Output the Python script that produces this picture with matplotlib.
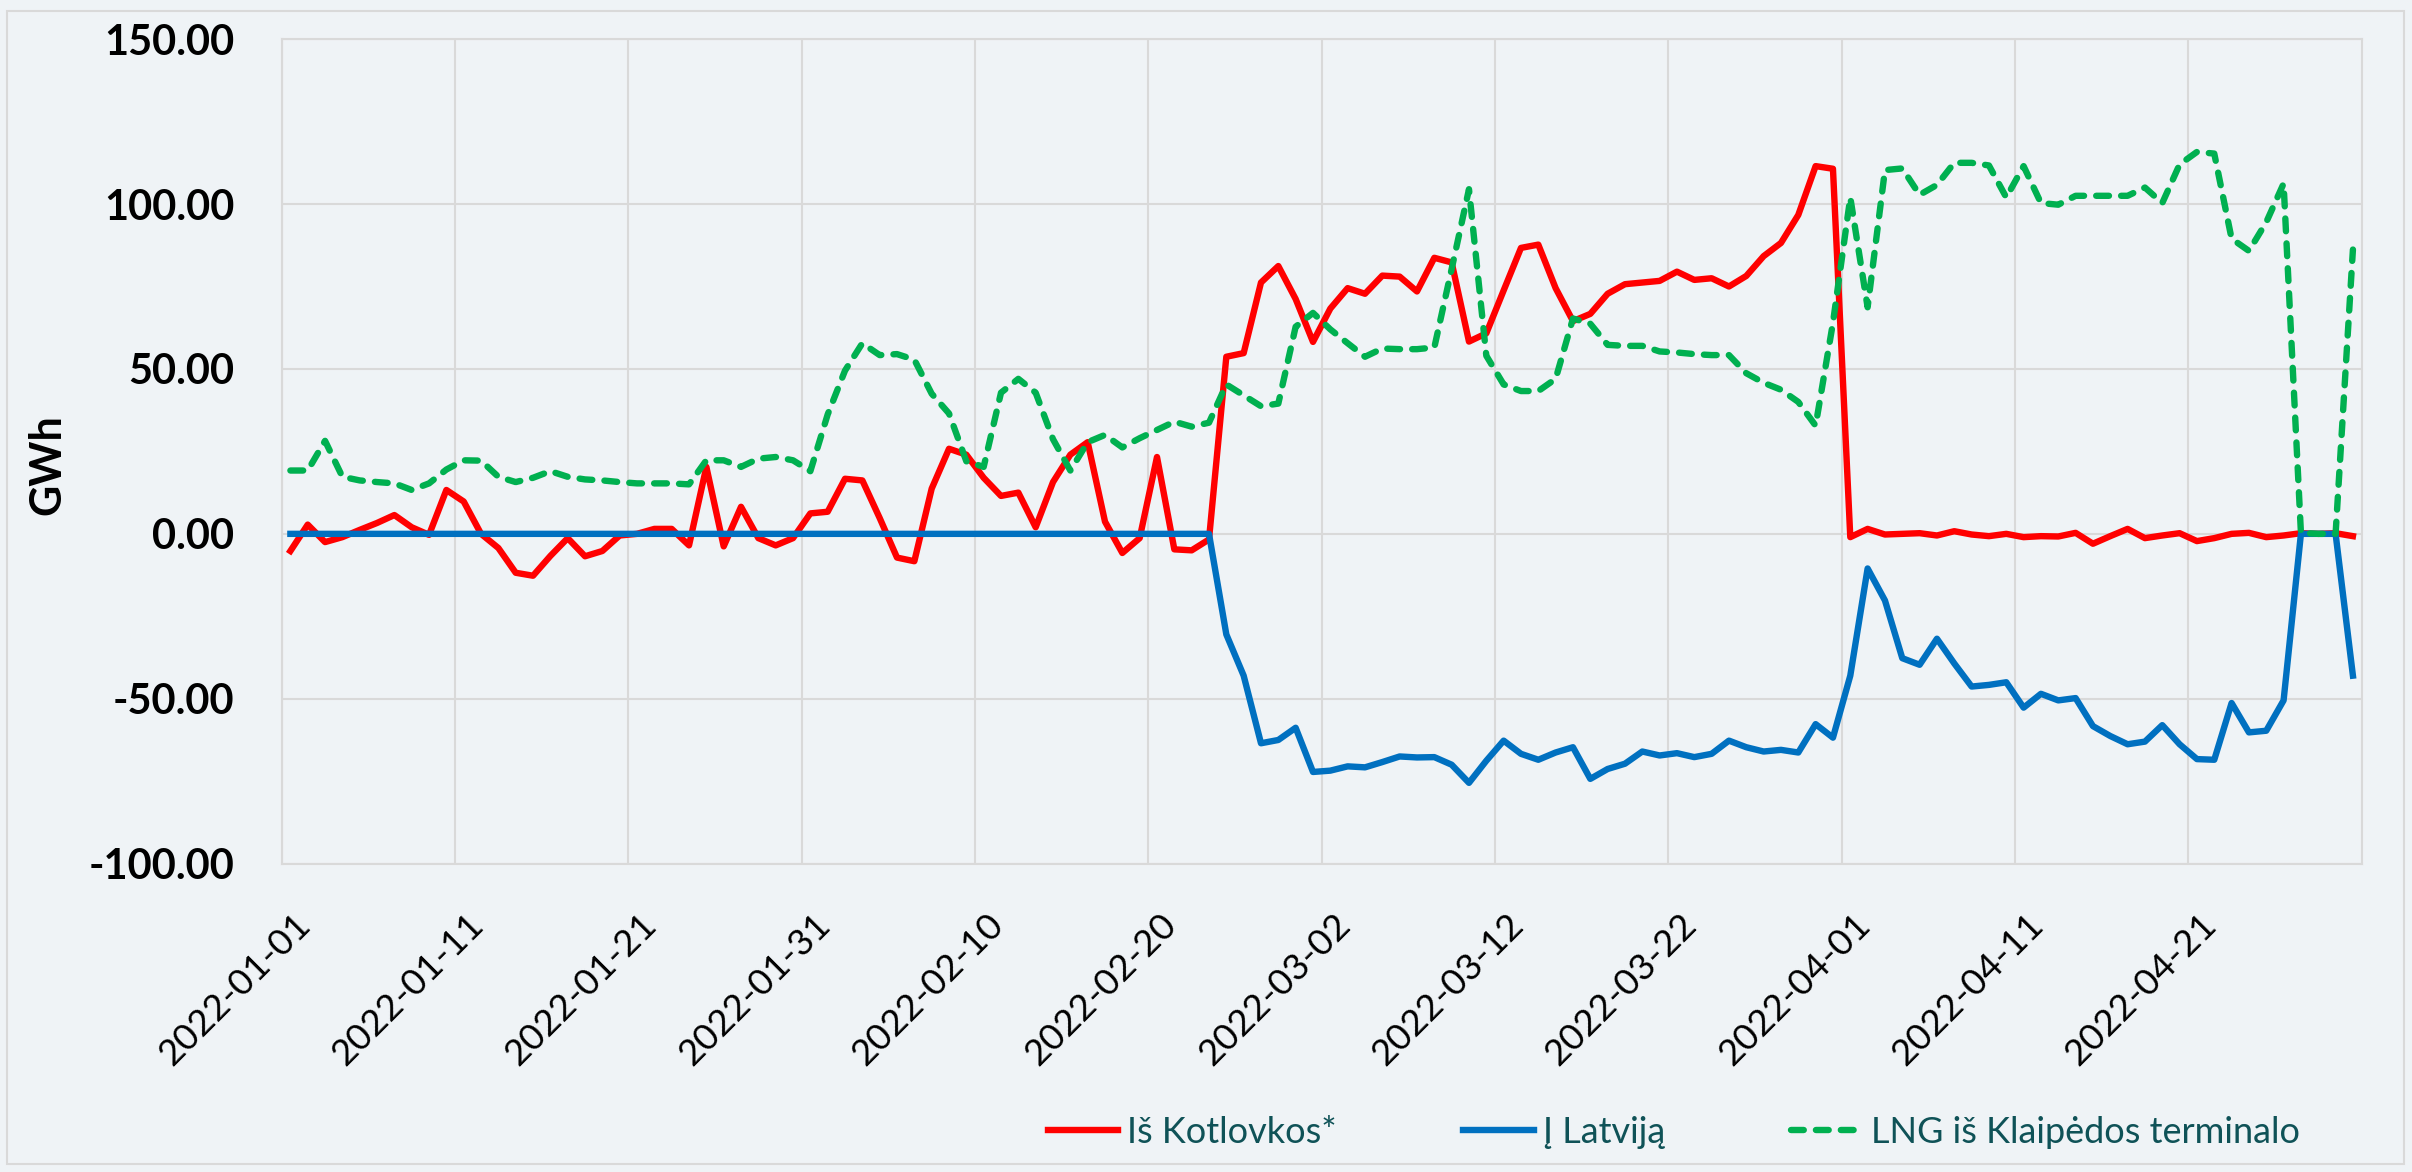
import numpy as np
import pandas as pd
import matplotlib
matplotlib.use('Agg')
import matplotlib.pyplot as plt
import matplotlib.dates as mdates
from matplotlib.ticker import FuncFormatter
from matplotlib.transforms import ScaledTranslation
from matplotlib.patches import Rectangle

# daily gas flows, GWh, 2022-01-01 .. 2022-04-30
dates = pd.date_range('2022-01-01', periods=120, freq='D')

kotlovka = [
    -5.2, 2.8, -2.5, -1.0, 1.2, 3.3, 5.7, 2.0, -0.3, 13.3,
    9.8, 0.0, -4.3, -11.8, -12.7, -6.7, -1.3, -6.8, -5.2, -0.5,
    0.0, 1.5, 1.5, -3.5, 20.3, -3.8, 8.2, -1.3, -3.5, -1.3,
    6.2, 6.7, 16.7, 16.2, 4.8, -7.2, -8.3, 13.7, 25.8, 24.0,
    17.0, 11.5, 12.5, 2.0, 15.7, 24.0, 27.8, 3.7, -5.8, -1.3,
    23.3, -4.7, -5.0, -1.7, 53.7, 54.8, 76.2, 81.2, 71.2, 58.2,
    68.3, 74.5, 72.8, 78.3, 78.0, 73.5, 83.7, 82.3, 58.3, 60.8,
    73.8, 86.7, 87.7, 74.5, 64.5, 66.7, 72.8, 75.7, 76.2, 76.7,
    79.5, 77.0, 77.5, 75.0, 78.2, 84.2, 88.2, 96.7, 111.5, 110.7,
    -1.0, 1.5, -0.2, 0.0, 0.2, -0.5, 0.8, -0.2, -0.7, 0.0,
    -1.0, -0.7, -0.8, 0.3, -3.0, -0.7, 1.5, -1.3, -0.5, 0.2,
    -2.2, -1.3, 0.0, 0.3, -1.0, -0.5, 0.2, 0.0, 0.2, -0.7,
]

latvija = [0.0] * 54 + [
    -30.5, -43.0, -63.5, -62.5, -58.8, -72.2,
    -71.8, -70.5, -70.8, -69.2, -67.5, -67.8, -67.7, -70.0, -75.5, -68.8,
    -62.7, -66.7, -68.5, -66.3, -64.7, -74.3, -71.3, -69.7, -66.0, -67.2,
    -66.5, -67.7, -66.7, -62.7, -64.7, -66.0, -65.5, -66.3, -57.7, -61.8,
    -43.0, -10.5, -20.2, -37.7, -39.7, -31.8, -39.3, -46.3, -45.8, -45.0,
    -52.7, -48.5, -50.5, -49.8, -58.3, -61.3, -63.8, -63.0, -58.0, -63.8,
    -68.3, -68.5, -51.3, -60.2, -59.7, -50.5, 0.0, 0.0, 0.0, -43.0,
]

lng = [
    19.2, 19.2, 28.2, 17.3, 16.2, 15.7, 15.3, 13.3, 15.3, 19.5,
    22.3, 22.2, 17.3, 15.7, 17.0, 19.0, 17.3, 16.5, 16.2, 15.7,
    15.3, 15.3, 15.3, 15.0, 22.3, 22.3, 20.3, 22.8, 23.3, 22.3,
    19.0, 36.2, 49.5, 57.8, 54.2, 54.5, 52.8, 42.5, 36.5, 22.0,
    20.3, 42.8, 47.0, 42.8, 28.7, 19.2, 27.8, 30.0, 26.2, 29.0,
    31.5, 34.0, 32.5, 33.7, 45.3, 42.0, 38.7, 39.5, 62.8, 67.0,
    62.0, 57.8, 53.7, 56.2, 56.0, 56.0, 56.5, 80.3, 104.5, 54.0,
    45.3, 43.3, 43.3, 47.0, 65.3, 63.7, 57.3, 57.0, 57.0, 55.3,
    55.0, 54.5, 54.2, 54.2, 48.7, 45.8, 43.7, 40.0, 32.8, 64.0,
    102.0, 68.7, 110.3, 110.8, 102.8, 105.8, 112.5, 112.5, 111.7, 102.0,
    111.5, 100.3, 99.8, 102.5, 102.5, 102.5, 102.5, 105.0, 100.3, 112.0,
    115.8, 115.3, 89.5, 85.8, 94.5, 106.2, 0.3, 0.0, 0.0, 86.2,
]

labels = ['Iš Kotlovkos*', 'Į Latviją', 'LNG iš Klaipėdos terminalo']
y_ticks = [-100, -50, 0, 50, 100, 150]

bg = '#EFF3F6'
grid = '#D9D9D9'

plt.rcParams['font.family'] = ['Lato', 'DejaVu Sans']
plt.rcParams['axes.unicode_minus'] = False

fig = plt.figure(figsize=(24.12, 11.72), dpi=100, facecolor=bg)
ax = fig.add_axes([0.1168, 0.2631, 0.8623, 0.7035])
ax.set_facecolor(bg)

# points sit in the middle of each day
x = dates + pd.Timedelta(hours=12)
ax.plot(x, kotlovka, color='#FF0000', lw=4.6, solid_joinstyle='round', label=labels[0], zorder=3)
ax.plot(x, latvija, color='#0070C0', lw=4.6, solid_joinstyle='round', label=labels[1], zorder=4)
ax.plot(x, lng, color='#00B050', lw=4.6, dashes=(2.0, 1.9), dash_capstyle='round',
        label=labels[2], zorder=5)

ax.set_xlim(pd.Timestamp('2022-01-01'), pd.Timestamp('2022-05-01'))
ax.set_ylim(-100, 150)
ax.set_yticks(y_ticks)
ax.yaxis.set_major_formatter(FuncFormatter(lambda v, p: f'{v:.2f}'))
ax.set_xticks(pd.date_range('2022-01-01', periods=12, freq='10D'))
ax.xaxis.set_major_formatter(mdates.DateFormatter('%Y-%m-%d'))

ax.grid(True, color=grid, lw=1.5)
ax.set_axisbelow(True)
for s in ax.spines.values():
    s.set_color(grid)
    s.set_linewidth(1.5)

ax.tick_params(axis='y', length=0, pad=34, labelsize=30)
ax.tick_params(axis='x', length=0, pad=40, labelsize=26.5)
for t in ax.get_yticklabels():
    t.set_fontweight('bold')
for t in ax.get_xticklabels():
    t.set_rotation(45)
    t.set_ha('right')
    t.set_va('center')
    t.set_rotation_mode('anchor')
    t.set_transform(t.get_transform() + ScaledTranslation(0.23, 0, fig.dpi_scale_trans))

fig.text(47 / 2412, 1 - 465 / 1172, 'GWh', rotation=90, ha='center', va='center',
         fontsize=31, fontweight='bold')

leg = fig.legend(loc='center', bbox_to_anchor=(0.694, 0.034), ncol=3, frameon=False,
                 fontsize=26, handlelength=1.95, handletextpad=0.25, columnspacing=3.5)
for t in leg.get_texts():
    t.set_color('#0F5257')

fig.patches.append(Rectangle((7 / 2412, 8 / 1172), 2397 / 2412, 1153 / 1172,
                             transform=fig.transFigure, fill=False, ec=grid, lw=1.5))

fig.savefig('out.png', dpi=100, facecolor=bg)
